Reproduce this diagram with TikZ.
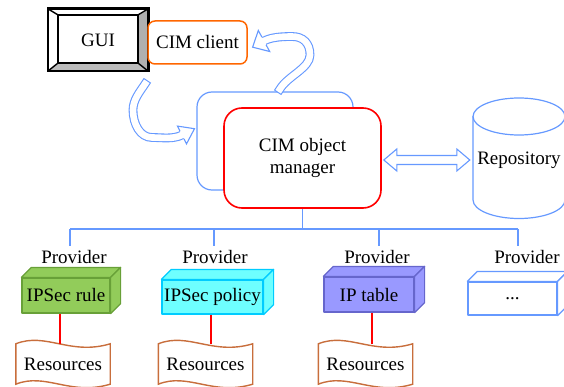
\documentclass[tikz,border=0pt]{standalone}
\usepackage{fontspec}
\setmainfont{Liberation Serif}
\newfontfamily\diagfont{Liberation Serif}
\usetikzlibrary{calc}
\definecolor{cimblue}{RGB}{102,153,255}
\definecolor{cimorange}{RGB}{255,102,0}
\definecolor{resbrown}{RGB}{200,110,60}
\definecolor{rulefill}{RGB}{146,204,90}
\definecolor{ruleedge}{RGB}{104,160,56}
\definecolor{polfill}{RGB}{110,255,255}
\definecolor{poledge}{RGB}{0,204,255}
\definecolor{tabfill}{RGB}{153,153,255}
\definecolor{tabedge}{RGB}{102,102,204}
\definecolor{bevelgray}{RGB}{176,176,176}

% top and side faces of a cuboid whose front face is node #1
\newcommand\cuboidfaces[3]{%
  \filldraw[fill=#2, draw=#3, line width=1.2pt, line join=round]
    (#1.north west) -- ++(10,-10) -- ($(#1.north east)+(10,-10)$) -- (#1.north east) -- cycle;
  \filldraw[fill=#2, draw=#3, line width=1.2pt, line join=round]
    (#1.north east) -- ++(10,-10) -- ($(#1.south east)+(10,-10)$) -- (#1.south east) -- cycle;}

% wavy "punched tape" outline around node #1
\newcommand\tapeoutline[1]{%
  \draw[tapeline] (#1.north west) .. controls +(30,-12) and +(-40,12) .. (#1.north east)
    -- (#1.south east) .. controls +(-40,12) and +(30,-12) .. (#1.south west) -- cycle;}

\begin{document}
\begin{tikzpicture}[x=1pt, y=-1pt,
  font=\diagfont\fontsize{19}{22}\selectfont,
  bluel/.style={draw=cimblue, line width=1.2pt},
  hollow/.style={draw=cimblue, line width=1.1pt, double=white, double distance=6.6pt, line cap=rect},
  headtip/.style={draw=cimblue, line width=1.1pt, fill=white, line join=miter},
  provlabel/.style={inner sep=0pt, outer ysep=4pt, anchor=base},
  cubefront/.style={line width=1.2pt, inner sep=0pt, line join=round},
  resnode/.style={minimum width=94pt, minimum height=40pt, inner sep=0pt},
  tapeline/.style={draw=resbrown, line width=1.4pt, fill=white},
  redline/.style={draw=red, line width=1.4pt}]
\useasboundingbox (0,0) rectangle (564,387);

% ---- GUI bevelled button ----
\node[minimum width=100pt, minimum height=62pt, inner sep=0pt] (gui) at (98,40) {GUI};
\path ($(gui.north west)+(10,6)$) coordinate (g1)
      ($(gui.north east)+(-10,6)$) coordinate (g2)
      ($(gui.south east)+(-10,-8)$) coordinate (g3)
      ($(gui.south west)+(10,-8)$) coordinate (g4);
\fill[bevelgray] (gui.north east) -- (g2) -- (g3) -- (gui.south east) -- cycle;
\fill[bevelgray!85] (gui.south west) -- (g4) -- (g3) -- (gui.south east) -- cycle;
\draw[line width=1.8pt] (g1) rectangle (g3);
\draw[line width=1.4pt] (gui.north west) -- (g1) (gui.north east) -- (g2)
                        (gui.south east) -- (g3) (gui.south west) -- (g4);
\draw[line width=2.6pt] (gui.north west) rectangle (gui.south east);

% ---- CIM client ----
\node[draw=cimorange, line width=1.5pt, rounded corners=7pt, fill=white,
      minimum width=99pt, minimum height=43pt, inner sep=0pt] (client) at (197.5,42.5) {CIM client};

% ---- CIM object manager with its surrounding frame ----
\node[draw=cimblue, line width=1.2pt, rounded corners=15pt,
      minimum width=156pt, minimum height=98pt] (frame) at (275,141) {};
\node[draw=red, line width=1.6pt, rounded corners=18pt, fill=white,
      minimum width=157pt, minimum height=100pt, align=center] (om) at (302.5,158) {CIM object\\manager};

% ---- Repository cylinder ----
\node[resnode, minimum width=92pt, minimum height=120pt] (repo) at (519,160) {Repository};
\draw[bluel] (473,116.5) -- (473,200)
  .. controls (473,210.2) and (493.6,218.5) .. (519,218.5)
  .. controls (544.4,218.5) and (565,210.2) .. (565,200) -- (565,116.5);
\draw[bluel] (519,116.5) ellipse [x radius=46pt, y radius=18.5pt];

% ---- hollow double arrow between manager and repository ----
\coordinate (dl) at ($(om.east |- repo.west)+(2,0)$);
\coordinate (dr) at ($(repo.west)+(-3,0)$);
\draw[bluel, line width=1.1pt, line join=miter, fill=white]
  (dl) -- ++(13,-11) -- ++(0,6.5) -- ($(dr)+(-13,-4.5)$) -- ++(0,-6.5) -- (dr)
  -- ++(-13,11) -- ++(0,-6.5) -- ($(dl)+(13,4.5)$) -- ++(0,6.5) -- cycle;

% ---- curved hollow arrow: GUI side to the manager frame ----
\coordinate (a1tail) at (145,84);
\coordinate (a1base) at (182,135);
\draw[hollow] (a1tail) .. controls (139.5,92.3) and (133,100) .. (133,110)
  .. controls (133,124) and (140,137.5) .. (152,137.5)
  .. controls (162,137.5) and (173,139.5) .. (a1base);
\draw[headtip] (180.0,131.1) -- (177.5,126.1) -- (194.5,128.7) -- (186.5,143.9) -- (184.0,138.9);

% ---- curved hollow arrow: manager frame back to CIM client ----
\coordinate (a2tail) at (280,89);
\coordinate (a2base) at (264,41);
\draw[hollow] (a2tail) .. controls (287.7,76.1) and (310,68) .. (310,55)
  .. controls (310,43) and (303,36.5) .. (292,36.5)
  .. controls (282,36.5) and (271,37.2) .. (a2base);
\draw[headtip] (261.9,37.1) -- (258.3,30.5) -- (252.6,47.2) -- (269.7,51.5) -- (266.1,44.9);

% ---- provider bus ----
\coordinate (bus) at ($(om.south)+(0,21)$);
\coordinate (d1) at (70,229);
\coordinate (d2) at (214,229);
\coordinate (d3) at (379,229);
\coordinate (d4) at (518,229);
\draw[bluel] (om.south) -- (bus);
\draw[bluel] (d1) -- (d4);

\node[provlabel] (p1) at (74,263) {Provider};
\node[provlabel] (p2) at (215,263) {Provider};
\node[provlabel] (p3) at (377,263) {Provider};
\node[provlabel] (p4) at (527,263) {Provider};
\foreach \i in {1,...,4}{\draw[bluel] (d\i) -- (d\i |- p\i.north);}

% ---- provider cuboids ----
\node[cubefront, draw=ruleedge, fill=rulefill, minimum width=88pt, minimum height=35pt] (b1) at (66,295.5) {IPSec rule};
\cuboidfaces{b1}{rulefill}{ruleedge}
\node[cubefront, draw=poledge, fill=polfill, minimum width=101pt, minimum height=34pt] (b2) at (212.5,297) {IPSec policy};
\cuboidfaces{b2}{polfill}{poledge}
\node[cubefront, draw=tabedge, fill=tabfill, minimum width=90pt, minimum height=35pt] (b3) at (369,294.5) {IP table};
\cuboidfaces{b3}{tabfill}{tabedge}
\node[cubefront, draw=cimblue, fill=white, minimum width=89pt, minimum height=33pt] (b4) at (512.5,298.5) {...};
\cuboidfaces{b4}{white}{cimblue}

% ---- resources ----
\node[resnode] (r1) at (63,364) {};
\node[resnode] (r2) at (205.5,364) {};
\node[resnode] (r3) at (365.5,364) {};
\tapeoutline{r1}
\tapeoutline{r2}
\tapeoutline{r3}
\node at (r1) {Resources};
\node at (r2) {Resources};
\node at (r3) {Resources};

\draw[redline] ([xshift=-6pt]b1.south) -- ([xshift=-6pt]b1.south |- r1.north);
\draw[redline] ([xshift=-1.5pt]b2.south) -- ([xshift=-1.5pt]b2.south |- r2.north);
\draw[redline] ([xshift=3pt]b3.south) -- ([xshift=3pt]b3.south |- r3.north);
\end{tikzpicture}
\end{document}
